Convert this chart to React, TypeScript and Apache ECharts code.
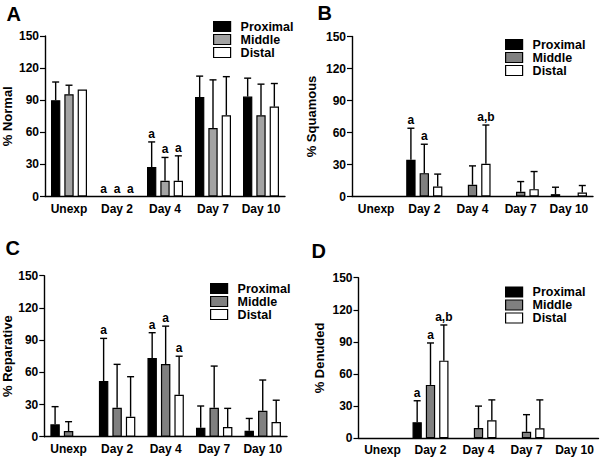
import React, { useEffect, useRef } from "react";
import * as echarts from "echarts";

const categories = ["Unexp", "Day 2", "Day 4", "Day 7", "Day 10"];
const groupNames = ["Proximal", "Middle", "Distal"];
const yMin = 0;
const yMax = 150;
const yInterval = 30;

// Panel A: % Normal
const normalProximal = [90, 0, 27.5, 93, 93.4];
const normalProximalErr = [107, null, 51, 112.5, 110.6];
const normalProximalLabels = ["", "a", "a", "", ""];
const normalMiddle = [95.6, 0, 14.7, 64, 76];
const normalMiddleErr = [104, null, 36.5, 109, 105];
const normalMiddleLabels = ["", "a", "a", "", ""];
const normalDistal = [100, 0, 14.7, 76, 84];
const normalDistalErr = [null, null, 38, 112, 105.6];
const normalDistalLabels = ["", "a", "a", "", ""];

// Panel B: % Squamous
const squamousProximal = [0, 34.4, 0, 0, 2.2];
const squamousProximalErr = [null, 64, null, null, 8.7];
const squamousProximalLabels = ["", "a", "", "", ""];
const squamousMiddle = [0, 21.9, 11, 4.4, 0];
const squamousMiddleErr = [null, 49, 28.7, 14, null];
const squamousMiddleLabels = ["", "a", "", "", ""];
const squamousDistal = [0, 9.4, 30.6, 6.9, 3.75];
const squamousDistalErr = [null, 21, 67, 23.4, 10.3];
const squamousDistalLabels = ["", "", "a,b", "", ""];

// Panel C: % Reparative
const reparativeProximal = [11.5, 51.9, 73.3, 8.4, 5.6];
const reparativeProximalErr = [28, 91.6, 96.9, 28.6, 17];
const reparativeProximalLabels = ["", "a", "a", "", ""];
const reparativeMiddle = [5.3, 27, 67.7, 27, 24.2];
const reparativeMiddleErr = [14, 67.4, 103, 65.8, 52.8];
const reparativeMiddleLabels = ["", "", "a", "", ""];
const reparativeDistal = [0, 18.6, 39, 9, 13.7];
const reparativeDistalErr = [null, 55.9, 75, 26.4, 34];
const reparativeDistalLabels = ["", "", "a", "", ""];

// Panel D: % Denuded
const denudedProximal = [0, 15, 0, 0, 0];
const denudedProximalErr = [null, 35, null, null, null];
const denudedProximalLabels = ["", "a", "", "", ""];
const denudedMiddle = [0, 49.8, 9.6, 6, 0];
const denudedMiddleErr = [null, 89, 30, 22, null];
const denudedMiddleLabels = ["", "a", "", "", ""];
const denudedDistal = [0, 72.5, 16.8, 9.3, 0];
const denudedDistalErr = [null, 105.8, 35.8, 35.8, null];
const denudedDistalLabels = ["", "a,b", "", "", ""];

const FONT = "'Liberation Sans', Arial, Helvetica, sans-serif";
const CAT_GAP = 0.25;
const BAR_GAP = 0.43;

type Panel = {
  letter: string;
  yName: string;
  nameGap: number;
  grid: { left: number; top: number; width: number; height: number };
  letterPos: { left: number; top: number };
  legendPos: { left: number; top: number };
  colors: string[];
  values: number[][];
  errs: (number | null)[][];
  labels: string[][];
};

const panels: Panel[] = [
  {
    letter: "A",
    yName: "% Normal",
    nameGap: 31,
    grid: { left: 45, top: 36, width: 240, height: 160.5 },
    letterPos: { left: 6.5, top: 3.5 },
    legendPos: { left: 213, top: 20 },
    colors: ["#000000", "#a3a3a3", "#ffffff"],
    values: [normalProximal, normalMiddle, normalDistal],
    errs: [normalProximalErr, normalMiddleErr, normalDistalErr],
    labels: [normalProximalLabels, normalMiddleLabels, normalDistalLabels],
  },
  {
    letter: "B",
    yName: "% Squamous",
    nameGap: 34,
    grid: { left: 352, top: 36.5, width: 241, height: 160 },
    letterPos: { left: 317.5, top: 2.5 },
    legendPos: { left: 505, top: 38 },
    colors: ["#000000", "#808080", "#ffffff"],
    values: [squamousProximal, squamousMiddle, squamousDistal],
    errs: [squamousProximalErr, squamousMiddleErr, squamousDistalErr],
    labels: [squamousProximalLabels, squamousMiddleLabels, squamousDistalLabels],
  },
  {
    letter: "C",
    yName: "% Reparative",
    nameGap: 30,
    grid: { left: 44.3, top: 275.7, width: 242.7, height: 161 },
    letterPos: { left: 5.5, top: 237.5 },
    legendPos: { left: 210, top: 282 },
    colors: ["#000000", "#808080", "#ffffff"],
    values: [reparativeProximal, reparativeMiddle, reparativeDistal],
    errs: [reparativeProximalErr, reparativeMiddleErr, reparativeDistalErr],
    labels: [reparativeProximalLabels, reparativeMiddleLabels, reparativeDistalLabels],
  },
  {
    letter: "D",
    yName: "% Denuded",
    nameGap: 33,
    grid: { left: 358.5, top: 277.7, width: 240, height: 160.5 },
    letterPos: { left: 311.5, top: 240.5 },
    legendPos: { left: 505, top: 285.5 },
    colors: ["#000000", "#808080", "#ffffff"],
    values: [denudedProximal, denudedMiddle, denudedDistal],
    errs: [denudedProximalErr, denudedMiddleErr, denudedDistalErr],
    labels: [denudedProximalLabels, denudedMiddleLabels, denudedDistalLabels],
  },
];

function makeErrRenderer(labels: string[]) {
  return (params: any, api: any) => {
    const cat = api.value(0);
    const g = api.value(1);
    const val = api.value(2);
    const top = api.value(3);
    const band = api.size([1, 0])[0];
    const w = (band * (1 - CAT_GAP)) / (3 + 2 * BAR_GAP);
    const cx = api.coord([cat, 0])[0] + (g - 1) * w * (1 + BAR_GAP);
    const yv = api.coord([cat, val])[1];
    const yt = api.coord([cat, top])[1];
    const children: any[] = [];
    const stroke = { stroke: "#000", lineWidth: 1.4 };
    if (top > val) {
      children.push({
        type: "line",
        shape: { x1: cx, y1: yv, x2: cx, y2: yt },
        style: stroke,
      });
      children.push({
        type: "line",
        shape: { x1: cx - 3.5, y1: yt, x2: cx + 3.5, y2: yt },
        style: stroke,
      });
    }
    const label = labels[params.dataIndex];
    if (label) {
      children.push({
        type: "text",
        x: cx,
        y: yt - 2,
        style: {
          text: label,
          align: "center",
          verticalAlign: "bottom",
          textAlign: "center",
          textVerticalAlign: "bottom",
          fontSize: 12,
          fontWeight: "bold",
          fontFamily: FONT,
          fill: "#000",
        },
      });
    }
    return { type: "group", children };
  };
}

function buildOption() {
  const grid: any[] = [];
  const xAxis: any[] = [];
  const yAxis: any[] = [];
  const series: any[] = [];
  const legend: any[] = [];
  const title: any[] = [];

  panels.forEach((p, pi) => {
    grid.push({ ...p.grid, containLabel: false });
    xAxis.push({
      type: "category",
      gridIndex: pi,
      data: categories,
      axisLine: { lineStyle: { color: "#000", width: 1.4 } },
      axisTick: { alignWithLabel: true, length: 4, lineStyle: { color: "#000", width: 1.2 } },
      axisLabel: {
        interval: 0,
        margin: 6,
        color: "#000",
        fontSize: 12,
        fontWeight: "bold",
        fontFamily: FONT,
      },
    });
    yAxis.push({
      type: "value",
      gridIndex: pi,
      min: yMin,
      max: yMax,
      interval: yInterval,
      name: p.yName,
      nameLocation: "middle",
      nameGap: p.nameGap,
      nameTextStyle: { color: "#000", fontSize: 13, fontWeight: "bold", fontFamily: FONT },
      axisLine: { show: true, lineStyle: { color: "#000", width: 1.4 } },
      axisTick: { show: true, length: 5, lineStyle: { color: "#000", width: 1.2 } },
      splitLine: { show: false },
      axisLabel: {
        margin: 6,
        color: "#000",
        fontSize: 12,
        fontWeight: "bold",
        fontFamily: FONT,
      },
    });
    const errData: number[][] = [];
    const errLabels: string[] = [];
    groupNames.forEach((name, gi) => {
      series.push({
        type: "bar",
        name,
        xAxisIndex: pi,
        yAxisIndex: pi,
        data: p.values[gi].map((v) =>
          v === 0 ? { value: v, itemStyle: { borderWidth: 0, opacity: 0 } } : v
        ),
        barCategoryGap: `${CAT_GAP * 100}%`,
        barGap: `${BAR_GAP * 100}%`,
        itemStyle: { color: p.colors[gi], borderColor: "#000", borderWidth: 1.2 },
      });
      p.values[gi].forEach((v, ci) => {
        const e = p.errs[gi][ci];
        const lab = p.labels[gi][ci];
        if (e != null || lab) {
          errData.push([ci, gi, v, e != null ? e : v]);
          errLabels.push(lab);
        }
      });
    });
    series.push({
      type: "custom",
      name: "err" + p.letter,
      xAxisIndex: pi,
      yAxisIndex: pi,
      data: errData,
      encode: { x: 0, y: 3 },
      renderItem: makeErrRenderer(errLabels),
      z: 5,
    });
    legend.push({
      orient: "vertical",
      left: p.legendPos.left,
      top: p.legendPos.top,
      padding: 0,
      itemGap: 0,
      itemWidth: 17,
      itemHeight: 10,
      selectedMode: false,
      icon: "rect",
      formatter: (name: string) => `{pad|}{t|${name}}`,
      textStyle: {
        color: "#000",
        fontSize: 12.5,
        fontWeight: "bold",
        fontFamily: FONT,
        lineHeight: 12.5,
        rich: {
          pad: { width: 5, height: 12.5 },
          t: {
            color: "#000",
            fontSize: 12.5,
            fontWeight: "bold",
            fontFamily: FONT,
            lineHeight: 12.5,
          },
        },
      },
      data: groupNames.map((name, gi) => ({
        name,
        icon: "rect",
        itemStyle: { color: p.colors[gi], borderColor: "#000", borderWidth: 1.2 },
      })),
    });
    title.push({
      text: p.letter,
      left: p.letterPos.left,
      top: p.letterPos.top,
      padding: 0,
      textStyle: { color: "#000", fontSize: 20, fontWeight: "bold", fontFamily: FONT },
    });
  });

  return {
    animation: false,
    backgroundColor: "#ffffff",
    title,
    legend,
    grid,
    xAxis,
    yAxis,
    series,
  };
}

export default function App() {
  const ref = useRef<HTMLDivElement>(null);
  useEffect(() => {
    if (!ref.current) return;
    const chart = echarts.init(ref.current, undefined, { renderer: "svg" });
    chart.setOption(buildOption() as any);
    return () => chart.dispose();
  }, []);
  return (
    <div
      ref={ref}
      style={{ position: "fixed", left: 0, top: 0, width: 600, height: 457, background: "#fff" }}
    />
  );
}
